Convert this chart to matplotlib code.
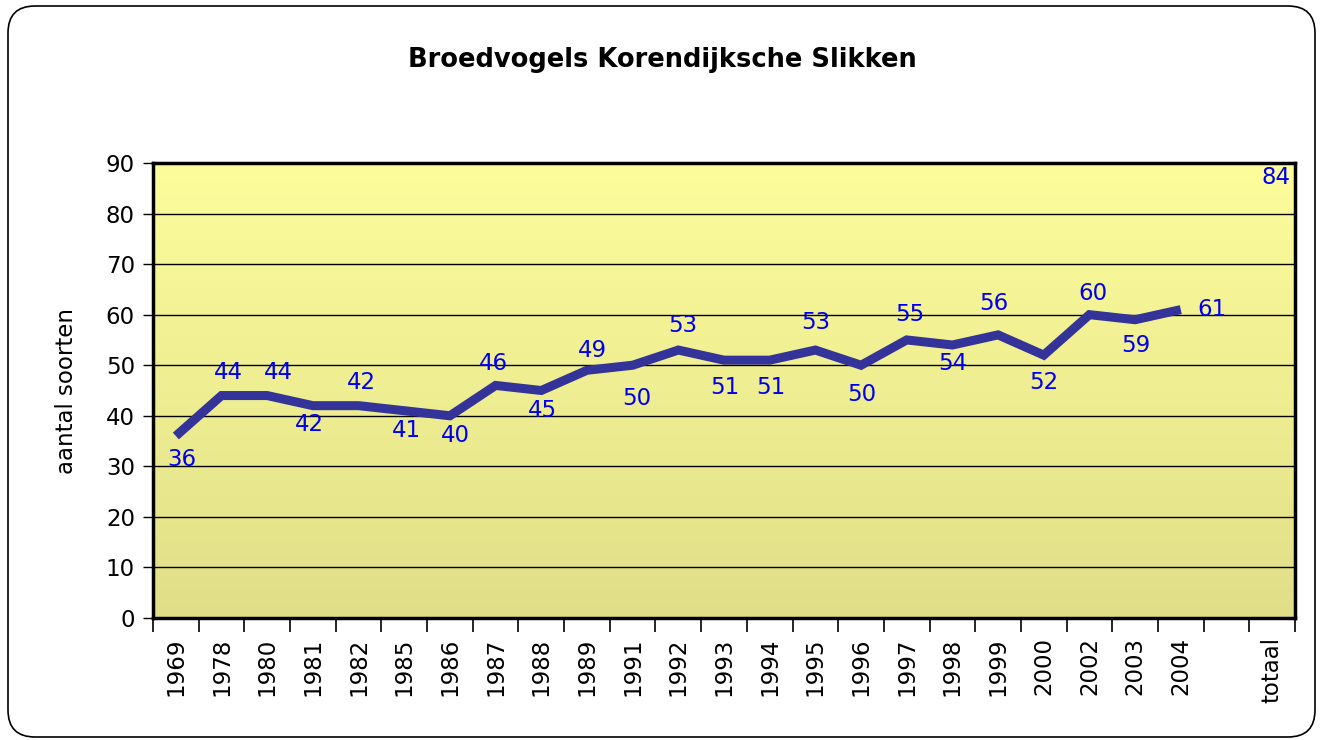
import numpy as np
import matplotlib
matplotlib.use("Agg")
import matplotlib.pyplot as plt
from matplotlib.patches import FancyBboxPatch
from matplotlib.colors import LinearSegmentedColormap

# ---- data ----
categories = ["1969", "1978", "1980", "1981", "1982", "1985", "1986", "1987", "1988",
              "1989", "1991", "1992", "1993", "1994", "1995", "1996", "1997", "1998",
              "1999", "2000", "2002", "2003", "2004", "", "totaal"]
values = [36, 44, 44, 42, 42, 41, 40, 46, 45, 49, 50, 53, 51, 51, 53, 50, 55, 54,
          56, 52, 60, 59, 61, None, 84]
title = "Broedvogels Korendijksche Slikken"
ylabel = "aantal soorten"
yticks = [0, 10, 20, 30, 40, 50, 60, 70, 80, 90]

# label offsets (pixels) relative to each point
label_offsets = [(6, -24), (7, 23), (11, 23), (-4, -19), (3, 23), (2, -20), (5, -20),
                 (-2, 22), (1, -20), (5, 20), (4, -33), (4, 25), (1, -27), (1, -27),
                 (0, 28), (1, -29), (3, 25), (0, -18), (-4, 31), (0, -27), (3, 21),
                 (1, -26), (31, 0), (0, 0), (4, 16)]

W, H = 1323, 740
fig = plt.figure(figsize=(W / 100, H / 100), dpi=100)
fig.patch.set_facecolor("white")

# outer rounded frame (inches)
frame = FancyBboxPatch((0.08, 0.03), 13.07, 7.31,
                       boxstyle="round,pad=0,rounding_size=0.27",
                       transform=fig.dpi_scale_trans, facecolor="none",
                       edgecolor="black", linewidth=1.2)
fig.patches.append(frame)

ax = fig.add_axes([153 / W, (740 - 618) / H, 1142 / W, 455 / H])

n = len(categories)
x = np.arange(n)
y = np.array([np.nan if v is None else v for v in values], dtype=float)

ax.set_xlim(-0.5, n - 0.5)
ax.set_ylim(0, 90)

# gradient background
cmap = LinearSegmentedColormap.from_list("bg", ["#E0DF88", "#FDFD9C"])
grad = np.linspace(0, 1, 256).reshape(-1, 1)
ax.imshow(grad, cmap=cmap, aspect="auto", origin="lower",
          extent=(-0.5, n - 0.5, 0, 90), zorder=0)

for t in yticks[1:-1]:
    ax.axhline(t, color="black", linewidth=1.0, zorder=1)

ax.plot(x, y, color="#333399", linewidth=6.5, solid_capstyle="butt",
        solid_joinstyle="miter", zorder=3)

for xi, yi, (dx, dy) in zip(x, y, label_offsets):
    if np.isnan(yi):
        continue
    ax.annotate(f"{int(yi)}", (xi, yi), xytext=(dx, dy), textcoords="offset pixels",
                ha="center", va="center", color="#0000EE", fontsize=16.5, zorder=4,
                annotation_clip=False)

for s in ax.spines.values():
    s.set_linewidth(2.5)
    s.set_color("black")
    s.set_zorder(5)

ax.set_yticks(yticks)
ax.set_yticklabels([str(t) for t in yticks], fontsize=16.5)
ax.tick_params(axis="y", length=7, width=1, pad=6)

ax.set_xticks(x)
ax.set_xticklabels(categories, rotation=90, fontsize=16.5)
ax.tick_params(axis="x", which="major", length=0, pad=14)
ax.set_xticks(np.arange(n + 1) - 0.5, minor=True)
ax.tick_params(axis="x", which="minor", length=10, width=1.2)

ax.set_ylabel(ylabel, fontsize=16.5, labelpad=20)

fig.text(662 / W, 1 - 60 / H, title, ha="center", va="center",
         fontsize=18.5, fontweight="bold")

fig.savefig("out.png", dpi=100, facecolor="white")
